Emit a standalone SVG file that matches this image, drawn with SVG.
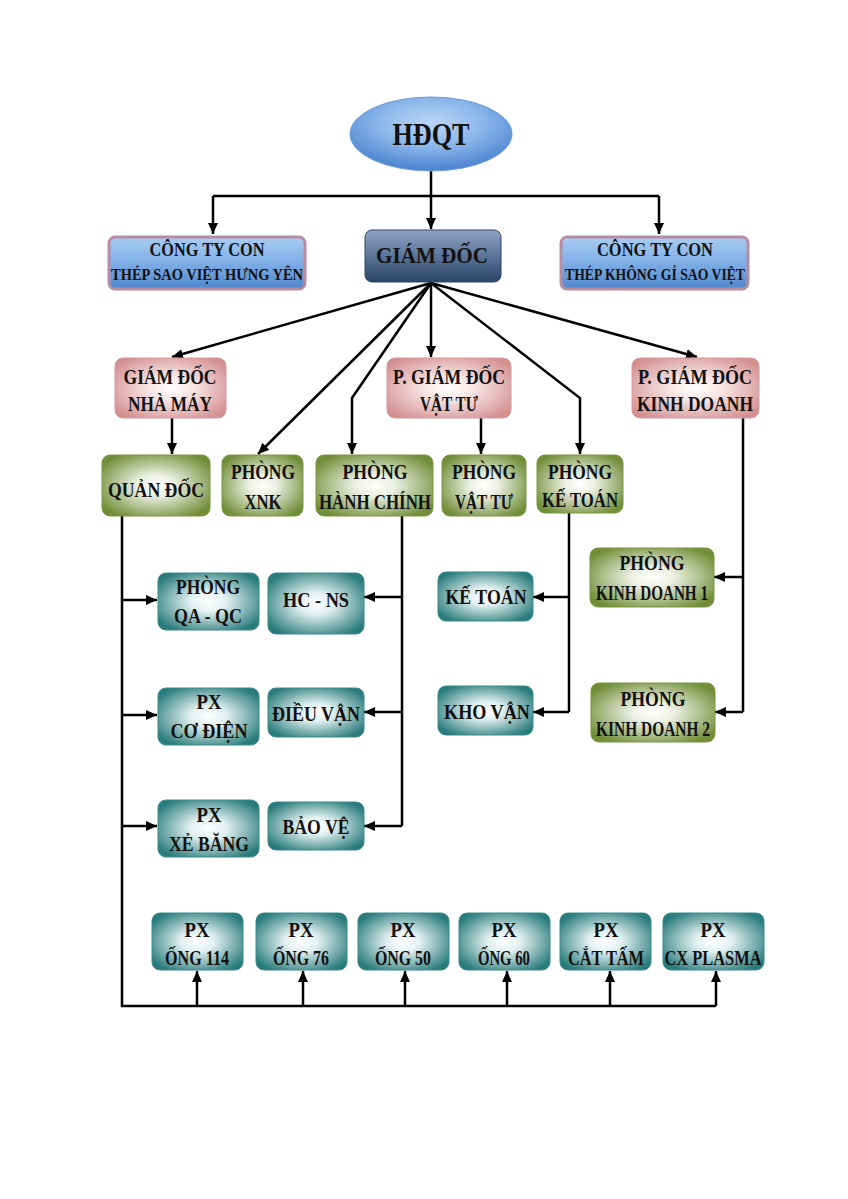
<svg xmlns="http://www.w3.org/2000/svg" width="848" height="1199" viewBox="0 0 848 1199">
<defs>
<radialGradient id="gTeal" cx="50%" cy="50%" r="60%"><stop offset="0" stop-color="#ffffff"/><stop offset="0.3" stop-color="#e2f0f0"/><stop offset="1" stop-color="#2a7c7c"/></radialGradient>
<radialGradient id="gGreen" cx="50%" cy="50%" r="60%"><stop offset="0" stop-color="#ffffff"/><stop offset="0.28" stop-color="#edf1e4"/><stop offset="1" stop-color="#718e38"/></radialGradient>
<radialGradient id="gPink" cx="50%" cy="50%" r="62%"><stop offset="0" stop-color="#ffffff"/><stop offset="0.35" stop-color="#f6e2e2"/><stop offset="1" stop-color="#d48f8f"/></radialGradient>
<linearGradient id="gBlue" x1="0" y1="0" x2="0" y2="1"><stop offset="0" stop-color="#a9cdf2"/><stop offset="0.5" stop-color="#7eaee6"/><stop offset="1" stop-color="#4f86cc"/></linearGradient>
<linearGradient id="gDark" x1="0" y1="0" x2="0" y2="1"><stop offset="0" stop-color="#8ea3c2"/><stop offset="0.5" stop-color="#5c7498"/><stop offset="1" stop-color="#2c4466"/></linearGradient>
<radialGradient id="gEll" cx="50%" cy="35%" r="65%"><stop offset="0" stop-color="#bcd6f4"/><stop offset="0.5" stop-color="#8ab6ea"/><stop offset="1" stop-color="#4a82cf"/></radialGradient>
<marker id="arr" markerUnits="userSpaceOnUse" markerWidth="12" markerHeight="10" refX="11" refY="5" orient="auto"><path d="M0,0 L11,5 L0,10 z" fill="#000"/></marker>
</defs>
<style>
.t{font-family:"Liberation Serif","Times New Roman",serif;font-weight:bold;fill:#111;text-anchor:middle;font-size:21px}
.teal{fill:url(#gTeal);stroke:#3a8a8a;stroke-width:1}
.green{fill:url(#gGreen);stroke:#7a9840;stroke-width:1}
.pink{fill:url(#gPink);stroke:#d49a9a;stroke-width:1}
.blue{fill:url(#gBlue);stroke:#b58ea4;stroke-width:3}
.c{fill:none;stroke:#000;stroke-width:2.5}
.a{marker-end:url(#arr)}
</style>
<rect width="848" height="1199" fill="#fff"/>
<g id="connectors">
<path class="c" d="M431 170 V196 M213 196 H659"/>
<path class="c a" d="M213 196 V234"/>
<path class="c a" d="M431 196 V229"/>
<path class="c a" d="M659 196 V234"/>
<path class="c a" d="M431 283 L172 357"/>
<path class="c a" d="M431 283 L258 454"/>
<path class="c a" d="M431 283 L352 398 V454"/>
<path class="c a" d="M431 283 V357"/>
<path class="c a" d="M431 283 L580 398 V454"/>
<path class="c a" d="M431 283 L697 357"/>
<path class="c a" d="M172 418 V454"/>
<path class="c a" d="M481 418 V454"/>
<path class="c" d="M122 516 V1006 H716"/>
<path class="c a" d="M122 600 H157"/>
<path class="c a" d="M122 715 H157"/>
<path class="c a" d="M122 826 H157"/>
<path class="c a" d="M197 1006 V971"/>
<path class="c a" d="M303 1006 V971"/>
<path class="c a" d="M405 1006 V971"/>
<path class="c a" d="M507 1006 V971"/>
<path class="c a" d="M610 1006 V971"/>
<path class="c a" d="M716 1006 V971"/>
<path class="c" d="M402 516 V826"/>
<path class="c a" d="M402 597 H364"/>
<path class="c a" d="M402 712 H364"/>
<path class="c a" d="M402 826 H364"/>
<path class="c" d="M569 513 V712"/>
<path class="c a" d="M569 597 H533"/>
<path class="c a" d="M569 712 H533"/>
<path class="c" d="M743 418 V712"/>
<path class="c a" d="M743 577 H714"/>
<path class="c a" d="M743 712 H715"/>
</g>
<g id="hdqt"><ellipse cx="431" cy="134" rx="81" ry="37" fill="url(#gEll)" stroke="#6d9ad6" stroke-width="1"/><text class="t" x="431" y="145" style="font-size:31px" textLength="77" lengthAdjust="spacingAndGlyphs">HĐQT</text></g>
<g id="ctc1"><rect class="blue" x="109" y="237" width="196" height="52" rx="6"/><text class="t" x="207" y="256" style="font-size:19px" textLength="115" lengthAdjust="spacingAndGlyphs">CÔNG TY CON</text><text class="t" x="207" y="280" style="font-size:17px" textLength="192" lengthAdjust="spacingAndGlyphs">THÉP SAO VIỆT HƯNG YÊN</text></g>
<g id="giamdoc"><rect x="365" y="230" width="136" height="52" rx="7" fill="url(#gDark)" stroke="#2c4466" stroke-width="1"/><text class="t" x="432" y="263" style="font-size:24px" textLength="112" lengthAdjust="spacingAndGlyphs">GIÁM ĐỐC</text></g>
<g id="ctc2"><rect class="blue" x="561" y="237" width="187" height="52" rx="6"/><text class="t" x="655" y="256" style="font-size:19px" textLength="116" lengthAdjust="spacingAndGlyphs">CÔNG TY CON</text><text class="t" x="655" y="280" style="font-size:17px" textLength="180" lengthAdjust="spacingAndGlyphs">THÉP KHÔNG GỈ SAO VIỆT</text></g>
<g id="gdnm"><rect class="pink" x="115" y="358" width="111" height="60" rx="8"/><text class="t" x="170" y="384" textLength="93" lengthAdjust="spacingAndGlyphs">GIÁM ĐỐC</text><text class="t" x="170" y="411" textLength="84" lengthAdjust="spacingAndGlyphs">NHÀ MÁY</text></g>
<g id="pgdvt"><rect class="pink" x="387" y="358" width="124" height="60" rx="8"/><text class="t" x="449" y="384" textLength="112" lengthAdjust="spacingAndGlyphs">P. GIÁM ĐỐC</text><text class="t" x="449" y="411" textLength="58" lengthAdjust="spacingAndGlyphs">VẬT TƯ</text></g>
<g id="pgdkd"><rect class="pink" x="632" y="358" width="127" height="60" rx="8"/><text class="t" x="695" y="384" textLength="114" lengthAdjust="spacingAndGlyphs">P. GIÁM ĐỐC</text><text class="t" x="695" y="411" textLength="116" lengthAdjust="spacingAndGlyphs">KINH DOANH</text></g>
<g id="quandoc"><rect class="green" x="102" y="455" width="108" height="61" rx="8"/><text class="t" x="156" y="497" textLength="96" lengthAdjust="spacingAndGlyphs">QUẢN ĐỐC</text></g>
<g id="xnk"><rect class="green" x="222" y="455" width="81" height="61" rx="8"/><text class="t" x="263" y="479" textLength="64" lengthAdjust="spacingAndGlyphs">PHÒNG</text><text class="t" x="263" y="509" textLength="37" lengthAdjust="spacingAndGlyphs">XNK</text></g>
<g id="hanhchinh"><rect class="green" x="316" y="455" width="117" height="61" rx="8"/><text class="t" x="375" y="479" textLength="65" lengthAdjust="spacingAndGlyphs">PHÒNG</text><text class="t" x="375" y="509" textLength="112" lengthAdjust="spacingAndGlyphs">HÀNH CHÍNH</text></g>
<g id="phongvattu"><rect class="green" x="442" y="455" width="84" height="61" rx="8"/><text class="t" x="484" y="479" textLength="64" lengthAdjust="spacingAndGlyphs">PHÒNG</text><text class="t" x="484" y="509" textLength="58" lengthAdjust="spacingAndGlyphs">VẬT TƯ</text></g>
<g id="ketoan"><rect class="green" x="537" y="455" width="86" height="58" rx="8"/><text class="t" x="580" y="479" textLength="64" lengthAdjust="spacingAndGlyphs">PHÒNG</text><text class="t" x="580" y="507" textLength="76" lengthAdjust="spacingAndGlyphs">KẾ TOÁN</text></g>
<g id="qaqc"><rect class="teal" x="158" y="573" width="101" height="57" rx="8"/><text class="t" x="208" y="594" textLength="64" lengthAdjust="spacingAndGlyphs">PHÒNG</text><text class="t" x="208" y="623" textLength="68" lengthAdjust="spacingAndGlyphs">QA - QC</text></g>
<g id="hcns"><rect class="teal" x="268" y="573" width="96" height="61" rx="8"/><text class="t" x="316" y="607" textLength="66" lengthAdjust="spacingAndGlyphs">HC - NS</text></g>
<g id="kt2"><rect class="teal" x="438" y="572" width="95" height="49" rx="8"/><text class="t" x="486" y="604" textLength="81" lengthAdjust="spacingAndGlyphs">KẾ TOÁN</text></g>
<g id="kd1"><rect class="green" x="590" y="548" width="124" height="59" rx="8"/><text class="t" x="652" y="570" textLength="65" lengthAdjust="spacingAndGlyphs">PHÒNG</text><text class="t" x="652" y="600" textLength="112" lengthAdjust="spacingAndGlyphs">KINH DOANH 1</text></g>
<g id="codien"><rect class="teal" x="158" y="688" width="101" height="57" rx="8"/><text class="t" x="209" y="709" style="font-size:20px" textLength="25" lengthAdjust="spacingAndGlyphs">PX</text><text class="t" x="209" y="738" textLength="77" lengthAdjust="spacingAndGlyphs">CƠ ĐIỆN</text></g>
<g id="dieuvan"><rect class="teal" x="268" y="688" width="96" height="49" rx="8"/><text class="t" x="316" y="721" textLength="88" lengthAdjust="spacingAndGlyphs">ĐIỀU VẬN</text></g>
<g id="khovan"><rect class="teal" x="438" y="686" width="95" height="49" rx="8"/><text class="t" x="487" y="719" textLength="86" lengthAdjust="spacingAndGlyphs">KHO VẬN</text></g>
<g id="kd2"><rect class="green" x="591" y="683" width="124" height="59" rx="8"/><text class="t" x="653" y="706" textLength="65" lengthAdjust="spacingAndGlyphs">PHÒNG</text><text class="t" x="653" y="736" textLength="114" lengthAdjust="spacingAndGlyphs">KINH DOANH 2</text></g>
<g id="xebang"><rect class="teal" x="158" y="800" width="101" height="57" rx="8"/><text class="t" x="209" y="822" style="font-size:20px" textLength="25" lengthAdjust="spacingAndGlyphs">PX</text><text class="t" x="209" y="851" textLength="80" lengthAdjust="spacingAndGlyphs">XẺ BĂNG</text></g>
<g id="baove"><rect class="teal" x="268" y="802" width="96" height="48" rx="8"/><text class="t" x="316" y="834" textLength="67" lengthAdjust="spacingAndGlyphs">BẢO VỆ</text></g>
<g id="ong114"><rect class="teal" x="152" y="913" width="91" height="57" rx="8"/><text class="t" x="197" y="937" style="font-size:20px" textLength="25" lengthAdjust="spacingAndGlyphs">PX</text><text class="t" x="197" y="965" textLength="64" lengthAdjust="spacingAndGlyphs">ỐNG 114</text></g>
<g id="ong76"><rect class="teal" x="256" y="913" width="91" height="57" rx="8"/><text class="t" x="301" y="937" style="font-size:20px" textLength="25" lengthAdjust="spacingAndGlyphs">PX</text><text class="t" x="301" y="965" textLength="56" lengthAdjust="spacingAndGlyphs">ỐNG 76</text></g>
<g id="ong50"><rect class="teal" x="358" y="913" width="91" height="57" rx="8"/><text class="t" x="403" y="937" style="font-size:20px" textLength="25" lengthAdjust="spacingAndGlyphs">PX</text><text class="t" x="403" y="965" textLength="56" lengthAdjust="spacingAndGlyphs">ỐNG 50</text></g>
<g id="ong60"><rect class="teal" x="459" y="913" width="91" height="57" rx="8"/><text class="t" x="504" y="937" style="font-size:20px" textLength="25" lengthAdjust="spacingAndGlyphs">PX</text><text class="t" x="504" y="965" textLength="52" lengthAdjust="spacingAndGlyphs">ỐNG 60</text></g>
<g id="cattam"><rect class="teal" x="560" y="913" width="91" height="57" rx="8"/><text class="t" x="606" y="937" style="font-size:20px" textLength="25" lengthAdjust="spacingAndGlyphs">PX</text><text class="t" x="606" y="965" textLength="76" lengthAdjust="spacingAndGlyphs">CẮT TẤM</text></g>
<g id="plasma"><rect class="teal" x="663" y="913" width="101" height="57" rx="8"/><text class="t" x="713" y="937" style="font-size:20px" textLength="25" lengthAdjust="spacingAndGlyphs">PX</text><text class="t" x="713" y="965" textLength="97" lengthAdjust="spacingAndGlyphs">CX PLASMA</text></g>
</svg>
